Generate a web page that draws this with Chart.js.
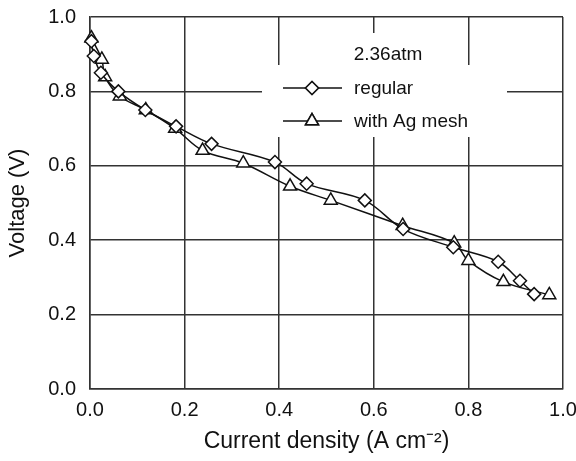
<!DOCTYPE html>
<html>
<head>
<meta charset="utf-8">
<script src="https://cdn.jsdelivr.net/npm/chart.js@4.4.0/dist/chart.umd.min.js"></script>
<style>
  html, body { margin: 0; padding: 0; background: #fff; }
  #wrap { width: 576px; height: 461px; }
</style>
</head>
<body>
<div id="wrap"><canvas id="ivChart" width="576" height="461"></canvas></div>
<script>
// Data
const regularX = [0.003, 0.008, 0.023, 0.06, 0.117, 0.182, 0.257, 0.391, 0.458, 0.581, 0.662, 0.768, 0.863, 0.909, 0.939];
const regularY = [0.935, 0.895, 0.85, 0.80, 0.75, 0.706, 0.659, 0.61, 0.552, 0.507, 0.43, 0.381, 0.342, 0.291, 0.255];
const meshX = [0.003, 0.025, 0.032, 0.063, 0.118, 0.18, 0.238, 0.324, 0.423, 0.509, 0.661, 0.77, 0.80, 0.874, 0.971];
const meshY = [0.943, 0.886, 0.839, 0.787, 0.75, 0.70, 0.641, 0.607, 0.545, 0.507, 0.439, 0.392, 0.345, 0.288, 0.253];
const tickValues = [0, 0.2, 0.4, 0.6, 0.8, 1.0];
const legendTitle = '2.36atm';
const seriesNames = ['regular', 'with Ag mesh'];

const toPoints = (xs, ys) => xs.map((x, i) => ({ x: x, y: ys[i] }));

const FONT = 'Liberation Sans, Arial, sans-serif';
const GRID = '#333';

// white box + legend inside the plot, over the grid
const insideLegend = {
  id: 'insideLegend',
  beforeDatasetsDraw(chart) {
    const ctx = chart.ctx;
    ctx.save();
    ctx.fillStyle = '#fff';
    ctx.fillRect(282, 33, 185, 32);
    ctx.fillRect(262, 65, 245, 72);

    ctx.fillStyle = '#111';
    ctx.font = '19px ' + FONT;
    ctx.textBaseline = 'middle';
    ctx.textAlign = 'center';
    ctx.fillText(legendTitle, 388, 55);

    ctx.textAlign = 'left';
    const rows = [88, 121];
    chart.data.datasets.forEach((ds, i) => {
      const y = rows[i];
      ctx.strokeStyle = '#111';
      ctx.lineWidth = 1.5;
      ctx.beginPath();
      ctx.moveTo(283, y);
      ctx.lineTo(342, y);
      ctx.stroke();
      Chart.helpers.drawPoint(ctx, {
        pointStyle: ds.pointStyle,
        radius: ds.pointRadius,
        borderWidth: 1.5
      }, 312, y);
      ctx.fillStyle = '#fff';
      ctx.fill();
      ctx.stroke();
      ctx.fillStyle = '#111';
      ctx.fillText(seriesNames[i], 354, y + 1);
    });
    ctx.restore();
  }
};

const config = {
  type: 'scatter',
  data: {
    datasets: [
      {
        label: seriesNames[0],
        data: toPoints(regularX, regularY),
        showLine: true,
        tension: 0.35,
        clip: false,
        borderColor: '#111',
        borderWidth: 1.5,
        pointStyle: 'rectRot',
        pointRadius: 6.5,
        pointBackgroundColor: '#fff',
        pointBorderColor: '#111',
        pointBorderWidth: 1.5,
      },
      {
        label: seriesNames[1],
        data: toPoints(meshX, meshY),
        showLine: true,
        tension: 0.35,
        clip: false,
        borderColor: '#111',
        borderWidth: 1.5,
        pointStyle: 'triangle',
        pointRadius: 7.5,
        pointBackgroundColor: '#fff',
        pointBorderColor: '#111',
        pointBorderWidth: 1.5,
      },
    ],
  },
  options: {
    responsive: false,
    animation: false,
    layout: { padding: { left: 0, right: 13, top: 17, bottom: 0 } },
    plugins: {
      legend: { display: false },
      tooltip: { enabled: false },
    },
    scales: {
      x: {
        type: 'linear',
        min: 0,
        max: 1,
        afterBuildTicks: (s) => { s.ticks = tickValues.map(v => ({ value: v })); },
        afterFit: (s) => { s.height = 72; s.paddingRight = 13; },
        ticks: {
          color: '#111',
          font: { family: FONT, size: 20 },
          padding: 9,
          maxRotation: 0,
          callback: (v) => v.toFixed(1),
        },
        grid: { color: GRID, lineWidth: 1.5, drawTicks: false },
        border: { color: GRID, width: 1.5 },
        title: {
          display: true,
          text: 'Current density (A cm\u207B\u00B2)',
          color: '#111',
          font: { family: FONT, size: 23 },
          padding: { top: 0, bottom: 6 },
        },
      },
      y: {
        type: 'linear',
        min: 0,
        max: 1,
        afterBuildTicks: (s) => { s.ticks = tickValues.map(v => ({ value: v })); },
        afterFit: (s) => { s.width = 90; s.paddingTop = 0; s.paddingBottom = 0; },
        ticks: {
          color: '#111',
          font: { family: FONT, size: 20 },
          padding: 14,
          callback: (v) => v.toFixed(1),
        },
        grid: { color: GRID, lineWidth: 1.5, drawTicks: false },
        border: { color: GRID, width: 1.5 },
        title: {
          display: true,
          text: 'Voltage (V)',
          color: '#111',
          font: { family: FONT, size: 22 },
          padding: { top: 5, bottom: 0 },
        },
      },
    },
  },
  plugins: [insideLegend],
};

const ctx = document.getElementById('ivChart').getContext('2d');
new Chart(ctx, config);
</script>
</body>
</html>
